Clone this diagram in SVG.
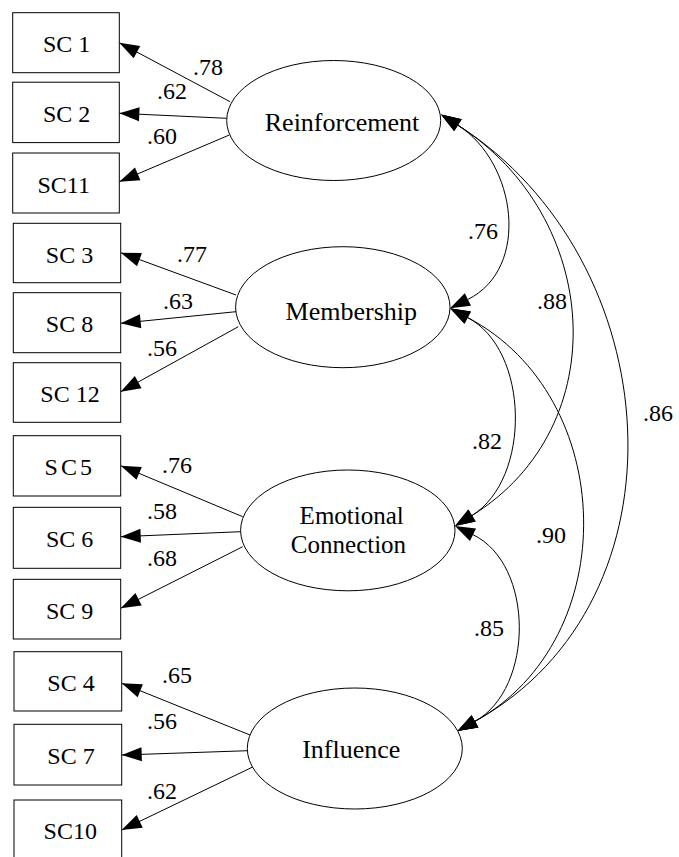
<svg xmlns="http://www.w3.org/2000/svg" width="679" height="857" viewBox="0 0 679 857">
  <style>
    .box { fill: #fff; stroke: #000; stroke-width: 1; }
    .lat { fill: #fff; stroke: #000; stroke-width: 1; }
    .lbl { font-family: "Liberation Serif", "Times New Roman", serif; font-size: 24px; fill: #000; }
    .name { font-family: "Liberation Serif", "Times New Roman", serif; font-size: 26px; fill: #000; text-anchor: middle; }
    .name2 { font-family: "Liberation Serif", "Times New Roman", serif; font-size: 25px; fill: #000; text-anchor: middle; }
    .ind { font-family: "Liberation Serif", "Times New Roman", serif; font-size: 24px; fill: #000; text-anchor: middle; }
    .load { fill: none; stroke: #000; stroke-width: 1; marker-end: url(#tip); }
    .cov { fill: none; stroke: #000; stroke-width: 1; marker-start: url(#head); marker-end: url(#head); }
  </style>
  <defs>
    <!-- arrowhead whose tip sits on the line end -->
    <marker id="tip" markerUnits="userSpaceOnUse" markerWidth="22" markerHeight="16" viewBox="-21 -8 22 16" refX="0" refY="0" orient="auto">
      <path d="M0,0 L-20,-7 L-20,7 z" fill="#000"/>
    </marker>
    <!-- arrowhead whose base sits on the curve end, tip 20 px beyond -->
    <marker id="head" markerUnits="userSpaceOnUse" markerWidth="22" markerHeight="16" viewBox="-1 -8 22 16" refX="0" refY="0" orient="auto-start-reverse">
      <path d="M20,0 L0,-7 L0,7 z" fill="#000"/>
    </marker>
  </defs>

  <g id="connectors">
    <!-- factor loadings -->
    <line class="load" x1="230" y1="101.7" x2="119.3" y2="42.7"/>
    <line class="load" x1="226.7" y1="118.3" x2="119.3" y2="113.3"/>
    <line class="load" x1="229.3" y1="135" x2="119.3" y2="181.7"/>
    <line class="load" x1="236" y1="295" x2="120.7" y2="252.7"/>
    <line class="load" x1="236" y1="311.7" x2="120.7" y2="323.3"/>
    <line class="load" x1="238.3" y1="326.7" x2="120.7" y2="391.7"/>
    <line class="load" x1="242.7" y1="516.7" x2="120.7" y2="465.7"/>
    <line class="load" x1="240.7" y1="531.7" x2="120.7" y2="536.7"/>
    <line class="load" x1="242.7" y1="546.7" x2="120.7" y2="608.3"/>
    <line class="load" x1="250" y1="735" x2="121.7" y2="683.3"/>
    <line class="load" x1="248.3" y1="750.7" x2="121.7" y2="755"/>
    <line class="load" x1="253.3" y1="766.7" x2="121.7" y2="830"/>

    <text class="lbl" x="193" y="75">.78</text>
    <text class="lbl" x="157" y="99">.62</text>
    <text class="lbl" x="147" y="144">.60</text>
    <text class="lbl" x="177" y="261.7">.77</text>
    <text class="lbl" x="163" y="308.7">.63</text>
    <text class="lbl" x="147" y="355.7">.56</text>
    <text class="lbl" x="162" y="472.7">.76</text>
    <text class="lbl" x="147" y="518.7">.58</text>
    <text class="lbl" x="147" y="566">.68</text>
    <text class="lbl" x="162" y="682.7">.65</text>
    <text class="lbl" x="147" y="729.3">.56</text>
    <text class="lbl" x="147" y="799.3">.62</text>

    <!-- factor covariances -->
    <path class="cov" d="M457.9,125.2 C516.9,162.8 530.6,268.4 467.9,299.4"/>
    <path class="cov" d="M457.9,125.2 C601.2,216.5 616.5,425.9 472,515.5"/>
    <path class="cov" d="M457.9,125.2 C668.7,259.5 693.8,600 475,721.3"/>
    <path class="cov" d="M467.7,317.6 C529.6,350.1 531.5,478.6 472,515.5"/>
    <path class="cov" d="M467.7,317.6 C618.2,396.7 623.8,638.8 475,721.3"/>
    <path class="cov" d="M473,534.7 C534.3,564.2 534.5,688.3 475,721.3"/>

    <text class="lbl" x="468" y="239.3">.76</text>
    <text class="lbl" x="537" y="309.3">.88</text>
    <text class="lbl" x="472" y="449">.82</text>
    <text class="lbl" x="643" y="421">.86</text>
    <text class="lbl" x="536" y="542.7">.90</text>
    <text class="lbl" x="474" y="636">.85</text>
  </g>

  <g id="reinforcement">
    <ellipse class="lat" cx="333.7" cy="120.5" rx="107" ry="60"/>
    <text class="name" x="342" y="130.7">Reinforcement</text>
  </g>
  <g id="membership">
    <ellipse class="lat" cx="342.8" cy="307.2" rx="107.2" ry="60.5"/>
    <text class="name" x="351.3" y="320">Membership</text>
  </g>
  <g id="emotional-connection">
    <ellipse class="lat" cx="347.8" cy="530.4" rx="107.2" ry="60.4"/>
    <text class="name2" x="351.7" y="524">Emotional</text>
    <text class="name2" x="348.5" y="552.5">Connection</text>
  </g>
  <g id="influence">
    <ellipse class="lat" cx="354.8" cy="748.5" rx="107.5" ry="60.5"/>
    <text class="name" x="351.3" y="758.3">Influence</text>
  </g>

  <g id="sc1"><rect class="box" x="12.7" y="12.7" width="106.6" height="60"/><text class="ind" x="66.7" y="52.4">SC 1</text></g>
  <g id="sc2"><rect class="box" x="12.7" y="82.2" width="106.6" height="60.4"/><text class="ind" x="66.7" y="122">SC 2</text></g>
  <g id="sc11"><rect class="box" x="12.7" y="153" width="106.6" height="60"/><text class="ind" x="63.7" y="192.7">SC11</text></g>
  <g id="sc3"><rect class="box" x="13.3" y="223.3" width="107.4" height="59.4"/><text class="ind" x="69.5" y="263.3">SC 3</text></g>
  <g id="sc8"><rect class="box" x="13.3" y="292.7" width="107.4" height="60"/><text class="ind" x="69.5" y="332.4">SC 8</text></g>
  <g id="sc12"><rect class="box" x="13.3" y="362.7" width="107.4" height="59.6"/><text class="ind" x="70" y="401.7">SC 12</text></g>
  <g id="sc5"><rect class="box" x="13.3" y="435.7" width="107.4" height="60.3"/><text class="ind" x="69.8" y="475" letter-spacing="3">SC5</text></g>
  <g id="sc6"><rect class="box" x="13.3" y="507.3" width="107.4" height="61"/><text class="ind" x="69.7" y="547">SC 6</text></g>
  <g id="sc9"><rect class="box" x="13.3" y="579.3" width="107.4" height="59.7"/><text class="ind" x="69.7" y="618.8">SC 9</text></g>
  <g id="sc4"><rect class="box" x="14" y="651.7" width="107.7" height="59.3"/><text class="ind" x="71" y="691">SC 4</text></g>
  <g id="sc7"><rect class="box" x="14" y="724.3" width="107.7" height="60.7"/><text class="ind" x="71" y="764">SC 7</text></g>
  <g id="sc10"><rect class="box" x="14" y="800" width="107.7" height="60"/><text class="ind" x="70.3" y="839.3">SC10</text></g>
</svg>
